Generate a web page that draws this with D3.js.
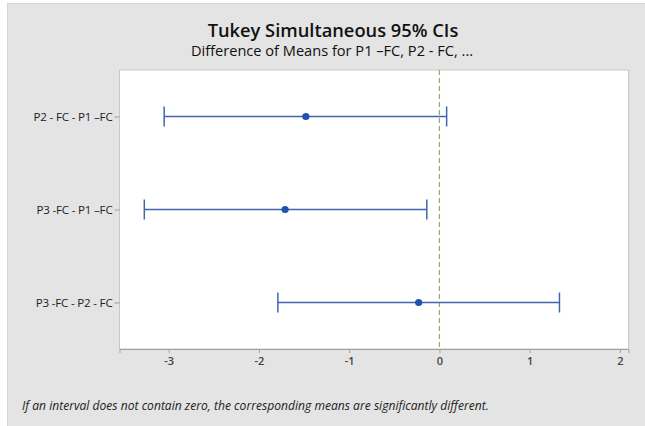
<!DOCTYPE html>
<html><head><meta charset="utf-8">
<script src="https://cdn.jsdelivr.net/npm/d3@7"></script>
<style>
html,body{margin:0;padding:0;background:#fff;}
svg{display:block;}
</style></head>
<body>
<script>
const comparisons = ["P2 - FC - P1 \u2013FC", "P3 -FC - P1 \u2013FC", "P3 -FC - P2 - FC"];
const means = [-1.48, -1.71, -0.23];
const lowers = [-3.05, -3.27, -1.79];
const uppers = [0.08, -0.14, 1.33];
const xTicks = [-3, -2, -1, 0, 1, 2];
const titleText = "Tukey Simultaneous 95% CIs";
const subtitleText = "Difference of Means for P1 \u2013FC, P2 - FC, ...";
const footnoteText = "If an interval does not contain zero, the corresponding means are significantly different.";

const W = 645, H = 426;
const svg = d3.select("body").append("svg").attr("width", W).attr("height", H);
const font = "'Open Sans','Noto Sans',sans-serif";

// outer grey panel
svg.append("rect").attr("x", 7).attr("y", 3).attr("width", W - 7).attr("height", H - 3)
  .attr("fill", "#e4e4e4");
svg.append("line").attr("x1", 7).attr("x2", W).attr("y1", 3.5).attr("y2", 3.5)
  .attr("stroke", "#d6d6d6");
svg.append("line").attr("x1", 7.5).attr("x2", 7.5).attr("y1", 3).attr("y2", H)
  .attr("stroke", "#d6d6d6");

const plot = {left: 119.5, right: 628.5, top: 70, bottom: 349};
const x = d3.scaleLinear().domain([-3.545, 2.095]).range([plot.left, plot.right]);
const y = d3.scalePoint().domain(comparisons).range([plot.top, plot.bottom]).padding(0.5);

svg.append("rect").attr("x", plot.left).attr("y", plot.top)
  .attr("width", plot.right - plot.left).attr("height", plot.bottom - plot.top)
  .attr("fill", "#ffffff").attr("stroke", "#c8c8c8").attr("stroke-width", 1);

// zero reference line
svg.append("line").attr("x1", x(0)).attr("x2", x(0)).attr("y1", plot.top).attr("y2", plot.bottom)
  .attr("stroke", "#98a870").attr("stroke-width", 1.2).attr("stroke-dasharray", "5,3");

// axes
const xAxis = d3.axisBottom(x).tickValues(xTicks).tickSize(4).tickPadding(4)
  .tickFormat(d => d < 0 ? "-" + Math.abs(d) : String(d));
const gx = svg.append("g").attr("transform", `translate(0,${plot.bottom})`).call(xAxis);
gx.select(".domain").attr("stroke", "#a0a0a0");
gx.selectAll(".tick line").attr("stroke", "#a0a0a0");
gx.selectAll(".tick text").attr("fill", "#444").attr("font-family", font).attr("font-size", 11)
  .attr("font-weight", 600);

const yAxis = d3.axisLeft(y).tickSize(5).tickPadding(2);
const gy = svg.append("g").attr("transform", `translate(${plot.left},0)`).call(yAxis);
gy.select(".domain").remove();
gy.selectAll(".tick line").attr("stroke", "#a0a0a0");
gy.selectAll(".tick text").attr("fill", "#222").attr("font-family", font).attr("font-size", 11.6)
  .attr("letter-spacing", "-0.2px");

// intervals
const rows = comparisons.map((c, i) => ({c, m: means[i], lo: lowers[i], hi: uppers[i]}));
const lineColor = "#4166ac";
const g = svg.append("g");
g.selectAll("line.ci").data(rows).join("line").attr("class", "ci")
  .attr("x1", d => x(d.lo)).attr("x2", d => x(d.hi))
  .attr("y1", d => y(d.c)).attr("y2", d => y(d.c))
  .attr("stroke", lineColor).attr("stroke-width", 1.3);
g.selectAll("line.lo").data(rows).join("line").attr("class", "lo")
  .attr("x1", d => x(d.lo)).attr("x2", d => x(d.lo))
  .attr("y1", d => y(d.c) - 10).attr("y2", d => y(d.c) + 10)
  .attr("stroke", lineColor).attr("stroke-width", 1.5);
g.selectAll("line.hi").data(rows).join("line").attr("class", "hi")
  .attr("x1", d => x(d.hi)).attr("x2", d => x(d.hi))
  .attr("y1", d => y(d.c) - 10).attr("y2", d => y(d.c) + 10)
  .attr("stroke", lineColor).attr("stroke-width", 1.5);
g.selectAll("circle").data(rows).join("circle")
  .attr("cx", d => x(d.m)).attr("cy", d => y(d.c)).attr("r", 3.6)
  .attr("fill", "#2150b0");

// titles
svg.append("text").attr("x", 333).attr("y", 37).attr("text-anchor", "middle")
  .attr("font-family", font).attr("font-size", 18.3).attr("font-weight", 600)
  .attr("fill", "#111").text(titleText);
svg.append("text").attr("x", 332).attr("y", 56).attr("text-anchor", "middle")
  .attr("font-family", font).attr("font-size", 14.6).attr("font-weight", 500)
  .attr("fill", "#111").text(subtitleText);
svg.append("text").attr("x", 22).attr("y", 410)
  .attr("font-family", font).attr("font-size", 12.1).attr("font-style", "italic")
  .attr("fill", "#222").text(footnoteText);
</script>
</body></html>
